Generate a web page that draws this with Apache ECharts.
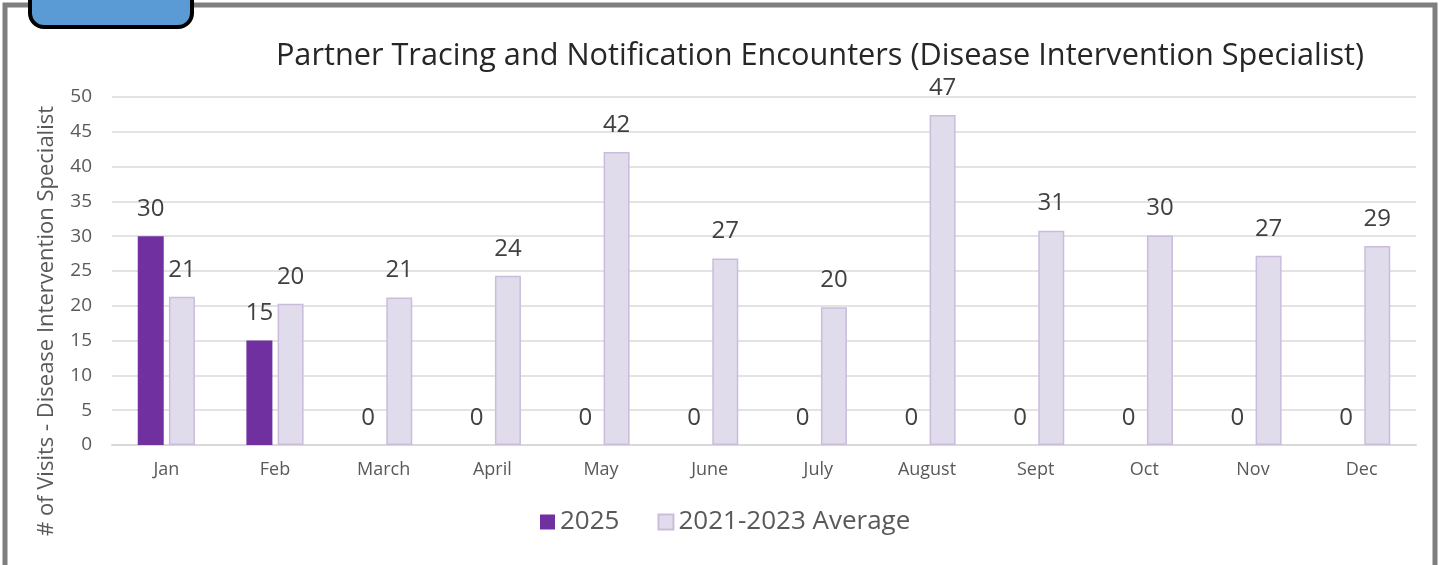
<!DOCTYPE html>
<html>
<head>
<meta charset="utf-8">
<script src="https://cdn.jsdelivr.net/npm/echarts@6/dist/echarts.min.js"></script>
<style>
  html, body { margin: 0; padding: 0; background: #fff; }
  #chart { width: 1440px; height: 565px; }
</style>
</head>
<body>
<div id="chart"></div>
<script>
// chart data
const months = ['Jan', 'Feb', 'March', 'April', 'May', 'June', 'July', 'August', 'Sept', 'Oct', 'Nov', 'Dec']
const visits2025 = [30, 15, 0, 0, 0, 0, 0, 0, 0, 0, 0, 0]
const visitsAvg = [21.3, 20.3, 21.2, 24.3, 42.1, 26.8, 19.8, 47.4, 30.8, 30.1, 27.2, 28.6]
const yTicks = { min: 0, max: 50, interval: 5 }

const font = '"Open Sans", sans-serif'
const chart = echarts.init(document.getElementById('chart'))

const labelStyle = {
  show: true,
  position: 'top',
  distance: 15,
  fontFamily: font,
  fontSize: 24,
  color: '#404040',
  formatter: p => Math.round(p.value)
}

const option = {
  animation: false,
  title: {
    text: 'Partner Tracing and Notification Encounters (Disease Intervention Specialist)',
    left: 815,
    top: 36,
    textAlign: 'center',
    textStyle: { fontFamily: font, fontSize: 30.7, fontWeight: 'normal', color: '#262626' }
  },
  graphic: [
    { // outer frame
      type: 'rect',
      shape: { x: 5, y: 5, width: 1430, height: 600 },
      style: { fill: 'none', stroke: '#7f7f7f', lineWidth: 5 },
      z: 100
    },
    { // blue tab
      type: 'rect',
      shape: { x: 30, y: -30, width: 162, height: 57, r: 14 },
      style: { fill: '#5b9bd5', stroke: '#000', lineWidth: 4 },
      z: 101
    },
    {
      type: 'text',
      x: 47,
      y: 321,
      rotation: Math.PI / 2,
      style: {
        text: '# of Visits - Disease Intervention Specialist',
        fontFamily: font,
        fontSize: 22,
        fill: '#595959',
        align: 'center',
        verticalAlign: 'middle'
      }
    }
  ],
  legend: {
    bottom: 25,
    left: 535,
    itemWidth: 15,
    itemHeight: 15,
    itemGap: 38,
    icon: 'rect',
    textStyle: { fontFamily: font, fontSize: 26, color: '#595959' },
    data: ['2025', '2021-2023 Average']
  },
  grid: { left: 112, right: 24, top: 97, bottom: 120 },
  xAxis: {
    type: 'category',
    data: months,
    axisTick: { show: false },
    axisLine: { lineStyle: { color: '#d9d9d9', width: 2 } },
    axisLabel: { margin: 16, fontFamily: font, fontSize: 18, color: '#595959' }
  },
  yAxis: {
    type: 'value',
    min: yTicks.min,
    max: yTicks.max,
    interval: yTicks.interval,
    axisLine: { show: false },
    axisTick: { show: false },
    axisLabel: { margin: 20, fontFamily: font, fontSize: 19, color: '#595959' },
    splitLine: { lineStyle: { color: '#e3e3e3', width: 2 } }
  },
  series: [
    {
      name: '2025',
      type: 'bar',
      data: visits2025,
      barWidth: 26,
      barGap: '20%',
      itemStyle: { color: '#7030a0' },
      label: labelStyle
    },
    {
      name: '2021-2023 Average',
      type: 'bar',
      data: visitsAvg,
      barWidth: 26,
      itemStyle: { color: '#e1dcec', borderColor: '#cbbcdc', borderWidth: 1.5 },
      label: labelStyle
    }
  ]
}
chart.setOption(option)
</script>
</body>
</html>
